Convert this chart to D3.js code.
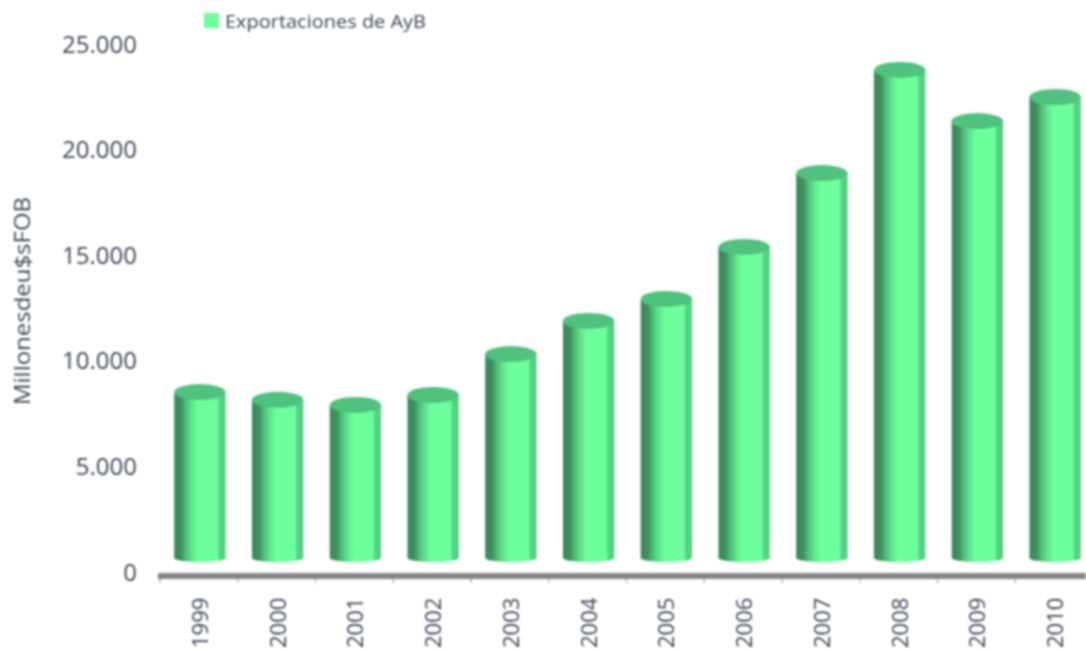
<!DOCTYPE html>
<html>
<head>
<meta charset="utf-8">
<script src="https://cdn.jsdelivr.net/npm/d3@7"></script>
<style>
  html, body { margin: 0; padding: 0; background: #fff; }
  svg { display: block; }
  text { font-family: "Open Sans", sans-serif; fill: #3c4656; }
</style>
</head>
<body>
<div id="chart"></div>
<script>
const years = ['1999', '2000', '2001', '2002', '2003', '2004', '2005', '2006', '2007', '2008', '2009', '2010'];
const exportsAyB = [8520, 8150, 7910, 8380, 10320, 11890, 12930, 15390, 18890, 23770, 21350, 22490];
const yTicks = [0, 5000, 10000, 15000, 20000, 25000];
const yTickLabels = ['0', '5.000', '10.000', '15.000', '20.000', '25.000'];
const legendLabel = 'Exportaciones de AyB';
const yTitle = 'Millonesdeu$sFOB';

const width = 1086;
const height = 652;

const svg = d3.select('#chart')
  .append('svg')
  .attr('width', width)
  .attr('height', height)
  .attr('viewBox', [0, 0, width, height]);

const defs = svg.append('defs');

// the original is a low resolution picture, so everything gets a light blur
defs.append('filter').attr('id', 'soft')
  .attr('x', '-5%').attr('y', '-5%').attr('width', '110%').attr('height', '110%')
  .append('feGaussianBlur').attr('stdDeviation', 0.8);

const grad = defs.append('linearGradient').attr('id', 'cyl');
[
  [0, '#3a8657'], [0.14, '#3f9161'], [0.22, '#4fb87a'], [0.34, '#60e28d'],
  [0.46, '#6cff9b'], [0.84, '#6cff9b'], [0.88, '#55d484'], [1, '#52cd80']
].forEach(d => grad.append('stop').attr('offset', d[0]).attr('stop-color', d[1]));

const x = d3.scaleBand()
  .domain(years)
  .range([161, 1094])
  .paddingInner(0.34)
  .paddingOuter(0.17);

const y = d3.scaleLinear()
  .domain([0, 25000])
  .range([572, 44]);

const root = svg.append('g').attr('filter', 'url(#soft)');

// y labels, no axis line in the original
root.append('g')
  .selectAll('text')
  .data(yTicks)
  .join('text')
    .attr('x', 137)
    .attr('y', d => y(d))
    .attr('dy', '0.36em')
    .attr('text-anchor', 'end')
    .attr('font-size', 24)
    .text((d, i) => yTickLabels[i]);

root.append('text')
  .attr('transform', 'translate(30,301) rotate(-90)')
  .attr('text-anchor', 'middle')
  .attr('font-size', 21)
  .attr('textLength', 208)
  .attr('lengthAdjust', 'spacingAndGlyphs')
  .text(yTitle);

// cylinders
const baseY = y(0) - 14;
const rTop = 8;
const rBase = 4;

const bars = root.append('g')
  .selectAll('g')
  .data(years)
  .join('g')
    .attr('transform', d => `translate(${x(d)},0)`);

bars.append('path')
  .attr('fill', 'url(#cyl)')
  .attr('d', (d, i) => {
    const w = x.bandwidth();
    const top = y(exportsAyB[i]);
    return `M0,${top}L${w},${top}L${w},${baseY}A${w / 2},${rBase} 0 0 1 0,${baseY}Z`;
  });

bars.append('ellipse')
  .attr('cx', x.bandwidth() / 2)
  .attr('cy', (d, i) => y(exportsAyB[i]))
  .attr('rx', x.bandwidth() / 2)
  .attr('ry', rTop)
  .attr('fill', '#4fc27d');

// x axis, drawn by hand because of the thick grey line
const axis = root.append('g').attr('transform', `translate(0,${y(0) + 2})`);
axis.append('rect')
  .attr('x', 158)
  .attr('y', -1)
  .attr('width', width - 158)
  .attr('height', 6)
  .attr('fill', '#868686');

axis.selectAll('line')
  .data(years)
  .join('line')
    .attr('x1', (d, i) => x.step() * i + 160)
    .attr('x2', (d, i) => x.step() * i + 160)
    .attr('y1', 5)
    .attr('y2', 9)
    .attr('stroke', '#c4c4c4')
    .attr('stroke-width', 2);

root.append('g')
  .selectAll('text')
  .data(years)
  .join('text')
    .attr('transform', d => `translate(${x(d) + x.bandwidth() / 2},648) rotate(-90)`)
    .attr('dy', '0.36em')
    .attr('font-size', 22)
    .text(d => d);

// legend
root.append('rect')
  .attr('x', 204)
  .attr('y', 13)
  .attr('width', 15)
  .attr('height', 15)
  .attr('fill', '#6cff9b');

root.append('text')
  .attr('x', 225)
  .attr('y', 28)
  .attr('font-size', 19)
  .attr('textLength', 201)
  .attr('lengthAdjust', 'spacingAndGlyphs')
  .text(legendLabel);
</script>
</body>
</html>
